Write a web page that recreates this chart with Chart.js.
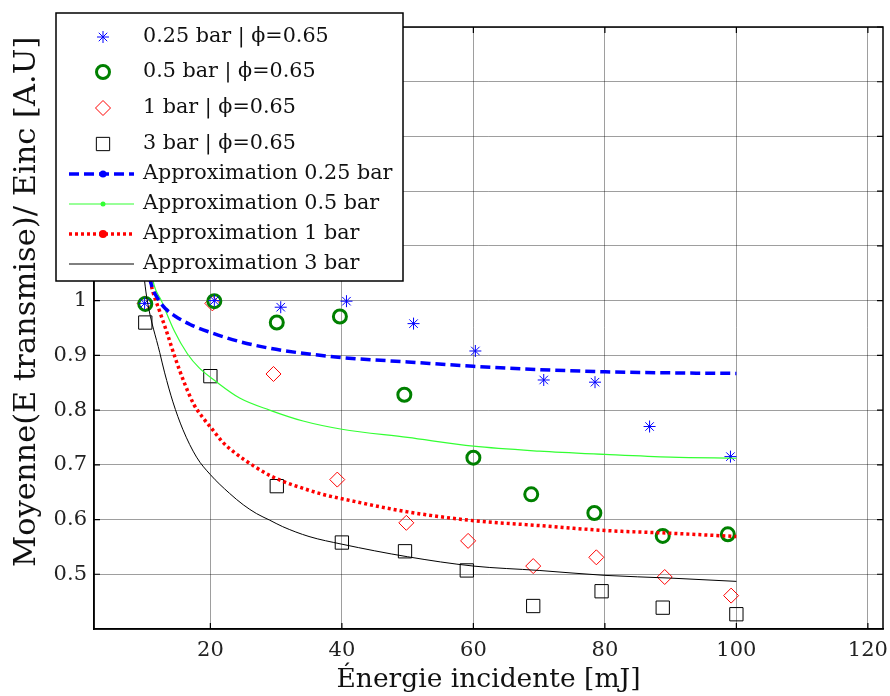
<!DOCTYPE html>
<html>
<head>
<meta charset="utf-8">
<script src="https://cdn.jsdelivr.net/npm/chart.js@4.4.1/dist/chart.umd.min.js"></script>
<style>
    html, body { margin: 0; padding: 0; background: #fff; }
    #wrap { width: 890px; height: 696px; }
</style>
</head>
<body>
<div id="wrap"><canvas id="transChart"></canvas></div>
<script>
// Measured points (energy in mJ, mean transmitted / incident energy)
const star025X = [10, 20.6, 30.7, 40.7, 50.9, 60.3, 70.7, 78.5, 86.8, 99.1];
const star025Y = [0.995, 1.0, 0.988, 0.999, 0.958, 0.908, 0.855, 0.851, 0.770, 0.715];
const circ05X = [10.1, 20.6, 30.1, 39.7, 49.5, 60.0, 68.8, 78.4, 88.8, 98.7];
const circ05Y = [0.994, 0.999, 0.960, 0.971, 0.828, 0.713, 0.646, 0.612, 0.570, 0.573];
const diam1X = [10, 20.3, 29.6, 39.3, 49.8, 59.2, 69.1, 78.7, 89.1, 99.2];
const diam1Y = [0.995, 0.995, 0.866, 0.673, 0.594, 0.561, 0.515, 0.531, 0.495, 0.461];
const sq3X = [10.1, 20, 30.1, 40, 49.6, 59, 69.1, 79.5, 88.8, 100];
const sq3Y = [0.960, 0.862, 0.661, 0.558, 0.542, 0.507, 0.442, 0.469, 0.439, 0.427];

// Approximation curves
const fit025X = [10.4, 10.9, 12.2, 13.2, 14.6, 17, 20, 24.5, 30, 40, 50, 60, 70, 80, 90, 100];
const fit025Y = [1.07, 1.035, 1.0, 0.985, 0.972, 0.956, 0.942, 0.925, 0.911, 0.896, 0.888, 0.880, 0.874, 0.870, 0.868, 0.867];
const fit05X = [10.9, 11.3, 12.55, 14.5, 16.5, 18.3, 20.65, 24.45, 29, 34.1, 40, 50, 60, 70, 80, 90, 100];
const fit05Y = [1.07, 1.035, 1.0, 0.945, 0.903, 0.877, 0.854, 0.822, 0.800, 0.780, 0.765, 0.750, 0.734, 0.725, 0.719, 0.714, 0.712];
const fit1X = [10.5, 10.9, 12.3, 13.3, 14.6, 16.1, 17.5, 18.8, 20.15, 21.9, 23.5, 25.2, 26.7, 29.3, 31, 34.1, 37.1, 40, 50, 60, 70, 80, 90, 100];
const fit1Y = [1.07, 1.035, 0.980, 0.945, 0.897, 0.848, 0.810, 0.787, 0.767, 0.741, 0.724, 0.709, 0.697, 0.679, 0.670, 0.657, 0.646, 0.638, 0.614, 0.598, 0.589, 0.580, 0.575, 0.569];
const fit3X = [9.7, 10.0, 10.4, 12.3, 13.05, 14.3, 15.8, 17.9, 20, 22.9, 25, 27, 29, 31, 35, 40, 50, 60, 70, 80, 90, 100];
const fit3Y = [1.07, 1.035, 1.0, 0.905, 0.868, 0.815, 0.765, 0.714, 0.682, 0.648, 0.627, 0.611, 0.599, 0.587, 0.569, 0.555, 0.532, 0.515, 0.507, 0.498, 0.493, 0.487];

const xTicks = [20, 40, 60, 80, 100, 120];
const yTicks = [0.5, 0.6, 0.7, 0.8, 0.9, 1.0, 1.1, 1.2, 1.3, 1.4, 1.5];

const toPoints = (xs, ys) => xs.map((x, i) => ({ x: x, y: ys[i] }));

// Markers sit below the approximation lines
function markerSet(label, xs, ys, style, color, radius, width) {
    return {
        label: label,
        data: toPoints(xs, ys),
        showLine: false,
        pointStyle: style,
        pointRadius: radius,
        pointHoverRadius: radius,
        pointBorderWidth: width,
        pointBorderColor: color,
        pointBackgroundColor: 'rgba(0,0,0,0)',
        borderColor: color,
        backgroundColor: 'rgba(0,0,0,0)',
        borderWidth: width,
        order: 2
    };
}

function lineSet(label, xs, ys, color, width, dash, dot) {
    return {
        label: label,
        data: toPoints(xs, ys),
        showLine: true,
        pointRadius: 0,
        borderColor: color,
        backgroundColor: color,
        borderWidth: width,
        borderDash: dash,
        cubicInterpolationMode: 'monotone',
        legendDot: dot,
        order: 1
    };
}

// Frame, inward ticks and boxed legend drawn over the plot (MATLAB style)
const frameLegendPlugin = {
    id: 'frameLegend',
    afterDraw(chart) {
        const { ctx, chartArea: a, scales } = chart;
        ctx.save();
        ctx.setLineDash([]);
        ctx.strokeStyle = '#000';
        ctx.lineWidth = 1.5;
        ctx.strokeRect(a.left, a.top, a.right - a.left, a.bottom - a.top);

        ctx.lineWidth = 1.2;
        ctx.beginPath();
        scales.x.ticks.forEach(t => {
            const px = scales.x.getPixelForValue(t.value);
            ctx.moveTo(px, a.bottom); ctx.lineTo(px, a.bottom - 6);
            ctx.moveTo(px, a.top); ctx.lineTo(px, a.top + 6);
        });
        scales.y.ticks.forEach(t => {
            const py = scales.y.getPixelForValue(t.value);
            ctx.moveTo(a.left, py); ctx.lineTo(a.left + 6, py);
            ctx.moveTo(a.right, py); ctx.lineTo(a.right - 6, py);
        });
        ctx.stroke();

        // legend box
        const box = { left: 56, top: 13, right: 403, bottom: 281 };
        const rowY = [37, 72, 108, 144, 174, 204, 234, 264];
        ctx.fillStyle = '#fff';
        ctx.fillRect(box.left, box.top, box.right - box.left, box.bottom - box.top);
        ctx.strokeStyle = '#000';
        ctx.lineWidth = 1.5;
        ctx.strokeRect(box.left, box.top, box.right - box.left, box.bottom - box.top);

        chart.data.datasets.forEach((ds, i) => {
            const y = rowY[i];
            ctx.setLineDash([]);
            if (ds.showLine) {
                ctx.strokeStyle = ds.borderColor;
                ctx.lineWidth = ds.borderWidth;
                ctx.setLineDash(ds.borderDash || []);
                ctx.beginPath();
                ctx.moveTo(69, y);
                ctx.lineTo(134, y);
                ctx.stroke();
                ctx.setLineDash([]);
                if (ds.legendDot) {
                    ctx.fillStyle = ds.borderColor;
                    ctx.beginPath();
                    ctx.arc(103, y, ds.legendDot, 0, Math.PI * 2);
                    ctx.fill();
                }
            } else if (Chart.helpers && Chart.helpers.drawPoint) {
                ctx.strokeStyle = ds.pointBorderColor;
                ctx.fillStyle = 'rgba(0,0,0,0)';
                ctx.lineWidth = ds.pointBorderWidth;
                Chart.helpers.drawPoint(ctx, {
                    pointStyle: ds.pointStyle,
                    radius: ds.pointRadius,
                    borderWidth: ds.pointBorderWidth,
                    rotation: 0
                }, 103, y);
            }
            ctx.fillStyle = '#111';
            ctx.font = '20.7px "DejaVu Serif"';
            ctx.textBaseline = 'middle';
            ctx.textAlign = 'left';
            ctx.fillText(ds.label, 143, y);
        });
        ctx.restore();
    }
};

const serif = '"DejaVu Serif", "Liberation Serif", serif';

new Chart(document.getElementById('transChart'), {
    type: 'scatter',
    data: {
        datasets: [
            markerSet('0.25 bar | ϕ=0.65', star025X, star025Y, 'star', '#0000ff', 6, 1),
            markerSet('0.5 bar | ϕ=0.65', circ05X, circ05Y, 'circle', '#008000', 6.5, 3),
            markerSet('1 bar | ϕ=0.65', diam1X, diam1Y, 'rectRot', '#ff0000', 7.5, 1),
            markerSet('3 bar | ϕ=0.65', sq3X, sq3Y, 'rect', '#000000', 9.4, 1),
            lineSet('Approximation 0.25 bar', fit025X, fit025Y, '#0000ff', 3.5, [10, 5], 3.5),
            lineSet('Approximation 0.5 bar', fit05X, fit05Y, '#33ff33', 1.2, [], 2.5),
            lineSet('Approximation 1 bar', fit1X, fit1Y, '#ff0000', 3.5, [3, 3], 4),
            lineSet('Approximation 3 bar', fit3X, fit3Y, '#000000', 1, [], 0)
        ]
    },
    options: {
        responsive: true,
        maintainAspectRatio: false,
        animation: false,
        devicePixelRatio: 1,
        layout: { autoPadding: false, padding: { top: 27, right: 7, left: 0, bottom: 0 } },
        plugins: {
            legend: { display: false },
            tooltip: { enabled: false }
        },
        scales: {
            x: {
                type: 'linear',
                min: 2.3,
                max: 122.3,
                afterBuildTicks: scale => { scale.ticks = xTicks.map(v => ({ value: v })); },
                afterFit: scale => {
                    scale.height = 67;
                    scale.paddingLeft = 0;
                    scale.paddingRight = 0;
                },
                grid: { color: 'rgba(0,0,0,0.38)', lineWidth: 1, drawTicks: false },
                border: { color: '#000', width: 1.5 },
                ticks: {
                    autoSkip: false,
                    maxRotation: 0,
                    padding: 9,
                    color: '#222',
                    font: { family: serif, size: 21 },
                    callback: v => String(v)
                },
                title: {
                    display: true,
                    text: 'Énergie incidente [mJ]',
                    color: '#111',
                    padding: { top: 0, bottom: 0 },
                    font: { family: serif, size: 26.5 }
                }
            },
            y: {
                type: 'linear',
                min: 0.4,
                max: 1.5,
                afterBuildTicks: scale => { scale.ticks = yTicks.map(v => ({ value: v })); },
                afterFit: scale => {
                    scale.width = 94;
                    scale.paddingTop = 0;
                    scale.paddingBottom = 0;
                },
                grid: { color: 'rgba(0,0,0,0.38)', lineWidth: 1, drawTicks: false },
                border: { color: '#000', width: 1.5 },
                ticks: {
                    autoSkip: false,
                    padding: 7,
                    color: '#222',
                    font: { family: serif, size: 21 },
                    callback: v => String(+v.toFixed(1))
                },
                title: {
                    display: true,
                    text: 'Moyenne(E transmise)/ Einc [A.U] ',
                    align: 'end',
                    color: '#111',
                    padding: { top: 9, bottom: 0 },
                    font: { family: serif, size: 30.5 }
                }
            }
        }
    },
    plugins: [frameLegendPlugin]
});
</script>
</body>
</html>
